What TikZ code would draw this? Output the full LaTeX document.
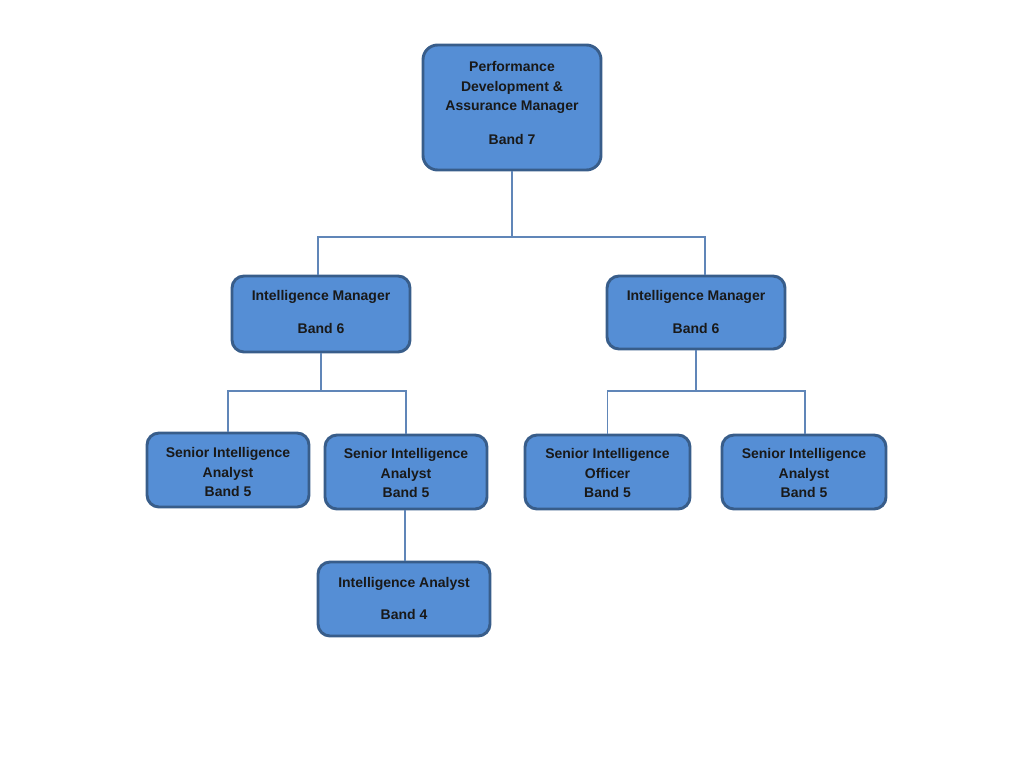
\documentclass[tikz,border=0pt]{standalone}
\usepackage{fontspec}
\setmainfont{Liberation Sans}
\definecolor{boxfill}{RGB}{85,142,213}
\definecolor{boxedge}{RGB}{56,93,138}
\definecolor{linkcol}{RGB}{96,134,184}
\begin{document}
\begin{tikzpicture}[x=0.75pt,y=-0.75pt,
  box/.style={draw=boxedge,fill=boxfill,line width=2.2pt,rounded corners=9pt,inner sep=0pt},
  txt/.style={align=center,inner sep=0pt,font=\fontsize{10.5pt}{14.6pt}\selectfont\bfseries,text=black!90},
  link/.style={draw=linkcol,line width=0.8pt}]
\useasboundingbox (0,0) rectangle (1024,768);
% boxes
\node[box,rounded corners=11pt,minimum width=133.5pt,minimum height=93.75pt] (top) at (512,107.5) {};
\node[box,minimum width=133.5pt,minimum height=57pt] (iml) at (321,314) {};
\node[box,minimum width=133.5pt,minimum height=54.75pt] (imr) at (696,312.5) {};
\node[box,minimum width=121.5pt,minimum height=55.5pt] (sia1) at (228,470) {};
\node[box,minimum width=121.5pt,minimum height=55.5pt] (sia2) at (406,472) {};
\node[box,minimum width=123.75pt,minimum height=55.5pt] (sio) at (607.5,472) {};
\node[box,minimum width=123pt,minimum height=55.5pt] (sia3) at (804,472) {};
\node[box,minimum width=129pt,minimum height=55.5pt] (ia) at (404,599) {};
% texts
\node[txt] (topt) at (512,103) {Performance\\Development \&\\Assurance Manager\\[10.9pt]Band 7};
\node[txt] (imlt) at (321,312) {Intelligence Manager\\[10.1pt]Band 6};
\node[txt] (imrt) at (696,312) {Intelligence Manager\\[10.1pt]Band 6};
\node[txt] (sia1t) at (228,472) {Senior Intelligence\\Analyst\\Band 5};
\node[txt] (sia2t) at (406,473) {Senior Intelligence\\Analyst\\Band 5};
\node[txt] (siot) at (607.5,473) {Senior Intelligence\\Officer\\Band 5};
\node[txt] (sia3t) at (804,473) {Senior Intelligence\\Analyst\\Band 5};
\node[txt] (iat) at (404,598.5) {Intelligence Analyst\\[10.1pt]Band 4};
% connectors
\draw[link] (top.south) -- (512,237) -| (318,0 |- iml.north);
\draw[link] (512,237) -| (705,0 |- imr.north);
\draw[link] (iml.south) -- (321,391) -| (sia1.north);
\draw[link] (321,391) -| (sia2.north);
\draw[link] (imr.south) -- (696,391) -- (805,391) -- (805,0 |- sia3.north);
\draw[link] (696,391) -| (sio.north);
\draw[link] (sia2.south -| 405,0) -- (ia.north -| 405,0);
\end{tikzpicture}
\end{document}
